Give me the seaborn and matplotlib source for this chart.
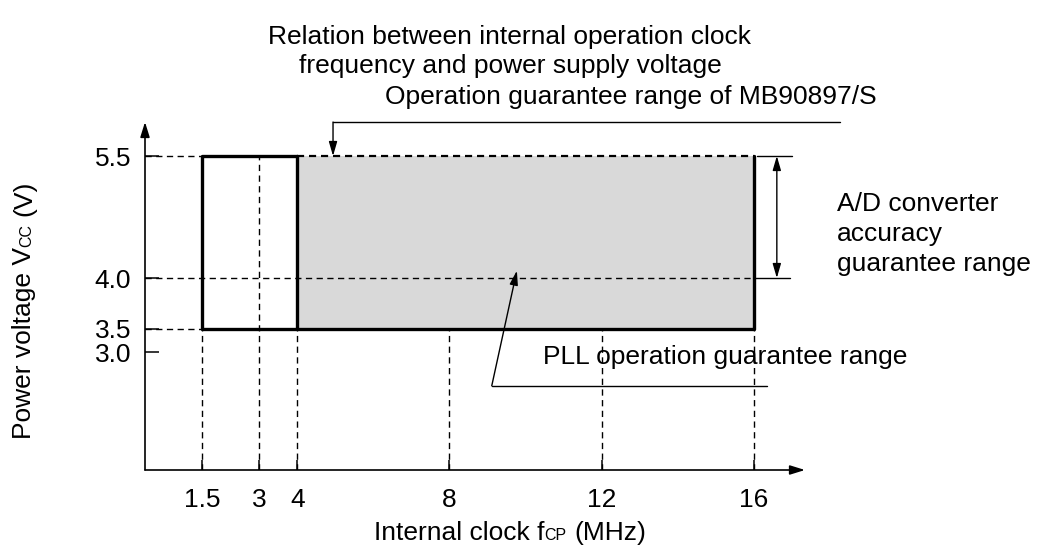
import numpy as np
import pandas as pd
import matplotlib
matplotlib.use("Agg")
import matplotlib.pyplot as plt
from matplotlib.transforms import IdentityTransform
import seaborn as sns

# ---- data -------------------------------------------------------------
freq_ticks = [1.5, 3, 4, 8, 12, 16]            # MHz
freq_labels = ["1.5", "3", "4", "8", "12", "16"]
volt_ticks = [3.0, 3.5, 4.0, 5.5]              # V
volt_labels = ["3.0", "3.5", "4.0", "5.5"]

mcu_freq = [1.5, 16]     # operation guarantee range of MB90897/S
mcu_volt = [3.5, 5.5]
pll_freq = [4, 16]       # PLL operation guarantee range
pll_volt = [3.5, 5.5]
adc_volt = [4.0, 5.5]    # A/D converter accuracy guarantee range

# ---- style ------------------------------------------------------------
FS = 19
sns.set_theme(style="white")
plt.rcParams["font.family"] = ["Liberation Sans", "DejaVu Sans"]
plt.rcParams["font.size"] = FS
plt.rcParams["text.color"] = "black"

W, H = 1037, 560
fig = plt.figure(figsize=(W / 100, H / 100), dpi=100)
ax = fig.add_axes([145 / W, 90 / H, 660 / W, 348 / H])

# schematic (non-uniform) voltage axis
V_KNOTS = [0.0, 3.0, 3.5, 4.0, 5.5, 6.0]
U_KNOTS = [0.0, 118.0, 141.0, 192.0, 314.0, 348.0]


def v_fwd(v):
    return np.interp(v, V_KNOTS, U_KNOTS)


def v_inv(u):
    return np.interp(u, U_KNOTS, V_KNOTS)


ax.set_yscale("function", functions=(v_fwd, v_inv))
ax.set_xlim(0, 17.34)
ax.set_ylim(0, 6.0)
for s in ax.spines.values():
    s.set_visible(False)

INK = "black"
DASH = dict(color=INK, lw=1.0, linestyle=(0, (4.5, 3.2)), zorder=3)

# shaded PLL region
ax.fill_between(pll_freq, pll_volt[0], pll_volt[1], color="#d9d9d9", lw=0, zorder=1)

# dashed guide lines
ax.plot([0, mcu_freq[0]], [mcu_volt[1]] * 2, **DASH)
ax.plot([pll_freq[0], pll_freq[1]], [mcu_volt[1]] * 2, color=INK, lw=1.6,
        linestyle=(0, (3.2, 2.2)), zorder=3)
ax.plot([0, pll_freq[1]], [adc_volt[0]] * 2, **DASH)
ax.plot([0, mcu_freq[0]], [mcu_volt[0]] * 2, **DASH)
for f in freq_ticks:
    top = mcu_volt[1] if mcu_freq[0] < f < pll_freq[0] else mcu_volt[0]
    ax.plot([f, f], [0, top], **DASH)

# thick outlines of the guarantee ranges
outline = pd.DataFrame({
    "f": [pll_freq[0], mcu_freq[0], mcu_freq[0], mcu_freq[1], mcu_freq[1]],
    "v": [mcu_volt[1], mcu_volt[1], mcu_volt[0], mcu_volt[0], mcu_volt[1]],
})
sns.lineplot(data=outline, x="f", y="v", sort=False, estimator=None,
             color=INK, lw=2.4, ax=ax, zorder=4)
divider = pd.DataFrame({"f": [pll_freq[0]] * 2, "v": pll_volt})
sns.lineplot(data=divider, x="f", y="v", sort=False, estimator=None,
             color=INK, lw=2.4, ax=ax, zorder=4)
ax.set_xlabel("")
ax.set_ylabel("")

# axes drawn as arrows
AX_ARROW = dict(arrowstyle="-|>,head_length=0.9,head_width=0.28", mutation_scale=10,
                lw=1.2, color=INK, shrinkA=0, shrinkB=0)
ax.annotate("", xy=(0, 1), xytext=(0, 0), xycoords="axes fraction",
            arrowprops=AX_ARROW, annotation_clip=False)
ax.annotate("", xy=(1, 0), xytext=(0, 0), xycoords="axes fraction",
            arrowprops=AX_ARROW, annotation_clip=False)

# ticks
ax.set_xticks(freq_ticks, labels=freq_labels)
ax.set_yticks(volt_ticks, labels=volt_labels)
ax.minorticks_off()
ax.tick_params(axis="x", bottom=True, direction="in", length=7, width=1.1,
               color=INK, pad=13, labelsize=FS, labelcolor=INK)
ax.tick_params(axis="y", left=True, direction="in", length=10, width=1.1,
               color=INK, pad=10, labelsize=FS, labelcolor=INK)

LEADER = dict(arrowstyle="-|>,head_length=0.86,head_width=0.25", mutation_scale=10,
              lw=1.0, color=INK, shrinkA=0, shrinkB=0)

# A/D converter accuracy range: dimension arrow
ax.plot([16.08, 17.0], [adc_volt[1]] * 2, color=INK, lw=1.0, clip_on=False, zorder=3)
ax.plot([16.0, 16.95], [adc_volt[0]] * 2, color=INK, lw=1.0, clip_on=False, zorder=3)
ax.annotate("", xy=(16.6, adc_volt[1]), xytext=(16.6, adc_volt[0]),
            arrowprops=dict(LEADER, arrowstyle="<|-|>,head_length=0.86,head_width=0.25"),
            annotation_clip=False)

# operation guarantee leader
ax.plot([18.25, 4.94], [6.0, 6.0], color=INK, lw=1.0, clip_on=False, zorder=3)
ax.annotate("", xy=(4.94, mcu_volt[1]), xytext=(4.94, 6.0), arrowprops=LEADER,
            annotation_clip=False)

# PLL leader
ax.plot([16.34, 9.11], [2.14, 2.14], color=INK, lw=1.0, clip_on=False, zorder=3)
ax.annotate("", xy=(9.77, 4.09), xytext=(9.11, 2.14), arrowprops=LEADER,
            annotation_clip=False)


# ---- texts (pixel positions, origin top-left) --------------------------
def ftext(x, y, s, **kw):
    kw.setdefault("va", "baseline")
    return fig.text(x / W, 1 - y / H, s, fontsize=FS, color=INK, **kw)


ftext(510, 44, "Relation between internal operation clock", ha="center")
ftext(510, 73, "frequency and power supply voltage", ha="center")
ftext(385, 104, "Operation guarantee range of MB90897/S", ha="left")
ftext(837, 211, "A/D converter", ha="left")
ftext(837, 241, "accuracy", ha="left")
ftext(837, 271, "guarantee range", ha="left")
ftext(543, 364, "PLL operation guarantee range", ha="left")

renderer = fig.canvas.get_renderer()


def text_width(s, size):
    t = fig.text(0, 0, s, fontsize=size)
    w = t.get_window_extent(renderer).width
    t.remove()
    return w


def rich_label(cx, cy, pieces, vertical=False):
    """Lay out text pieces of different sizes on one baseline, centred on
    (cx, cy) in top-left pixel coordinates."""
    objs, widths = [], []
    for s, size in pieces:
        t = fig.text(0, 0, s.strip(), fontsize=size, color=INK, ha="left",
                     va="baseline", transform=IdentityTransform())
        w = t.get_window_extent(renderer).width
        w_sp = (text_width("x x", size) - text_width("xx", size)) if s.startswith(" ") else 0.0
        objs.append((t, w_sp))
        widths.append(w + w_sp)
    pos = -sum(widths) / 2
    for (t, w_sp), w in zip(objs, widths):
        p = pos + w_sp
        if vertical:
            t.set_rotation(90)
            t.set_rotation_mode("anchor")
            t.set_position((cx, (H - cy) + p))
        else:
            t.set_position((cx + p, H - cy))
        pos += w


rich_label(510, 540, [("Internal clock f", FS), ("CP", 11.5), (" (MHz)", FS)])
rich_label(31, 310, [("Power voltage V", FS), ("CC", 11.5), (" (V)", FS)], vertical=True)

fig.savefig("out.png", dpi=100, facecolor="white")
